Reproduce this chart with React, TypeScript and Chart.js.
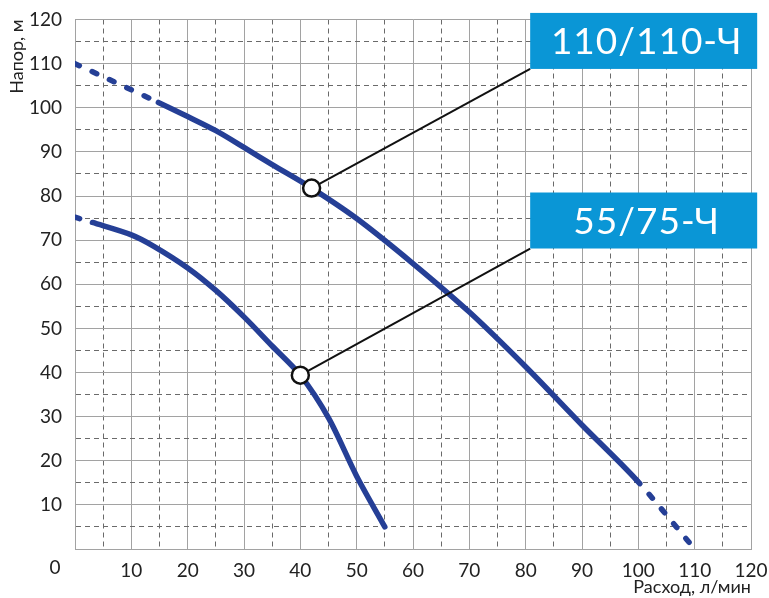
import React, { useEffect, useRef } from 'react';
import { Chart, registerables } from 'chart.js';

Chart.register(...registerables);

// Curve 110/110-Ч : flow (л/мин) and head (м)
const flowUpper = [0, 14.8, 20, 25, 30, 35, 42, 50, 60, 70, 80, 90, 99.7, 110];
const headUpper = [110, 101.2, 98.0, 94.8, 91.0, 87.1, 81.8, 74.9, 64.7, 53.7, 41.3, 28.1, 15.6, 0];
const dashedUpper = [0, 12]; // segment start indices drawn dashed

// Curve 55/75-Ч
const flowLower = [0, 3.1, 10, 14, 20, 25, 30, 35, 40, 45, 50, 55];
const headLower = [75.2, 74.0, 71.2, 68.6, 63.7, 58.6, 52.6, 46.0, 39.4, 29.7, 16.5, 5];
const dashedLower = [0];

// Model labels and the marked points
const modelNames = ['110/110-Ч', '55/75-Ч'];
const markerFlow = [42, 40];
const markerHead = [81.8, 39.4];
const calloutFlow = [80.8, 80.8];
const calloutHead = [108.8, 68.1];

const yTitle = 'Напор, м';
const xTitle = 'Расход, л/мин';
const originLabel = '0';

const FONT = 'Lato, "Open Sans", "DejaVu Sans", sans-serif';
const CURVE = '#253f96';
const BOX = '#0a96d6';

const toPoints = (xs: number[], ys: number[]) => xs.map((x, i) => ({ x, y: ys[i] }));

const calloutPlugin = {
  id: 'callouts',
  afterDatasetDraw(chart: any, args: any) {
    if (args.index !== 1) return;
    const { ctx, scales } = chart;
    const x = scales.x, y = scales.y;
    ctx.save();
    ctx.strokeStyle = '#111';
    ctx.lineWidth = 2;
    for (let i = 0; i < modelNames.length; i++) {
      ctx.beginPath();
      ctx.moveTo(x.getPixelForValue(markerFlow[i]), y.getPixelForValue(markerHead[i]));
      ctx.lineTo(x.getPixelForValue(calloutFlow[i]), y.getPixelForValue(calloutHead[i]));
      ctx.stroke();
    }
    ctx.restore();
  },
  afterDraw(chart: any) {
    const { ctx, scales } = chart;
    const x = scales.x, y = scales.y;
    ctx.save();
    const w = 227, h = 56;
    for (let i = 0; i < modelNames.length; i++) {
      const left = x.getPixelForValue(calloutFlow[i]);
      const bottom = y.getPixelForValue(calloutHead[i]);
      ctx.fillStyle = BOX;
      ctx.fillRect(left, bottom - h, w, h);
      ctx.fillStyle = '#ffffff';
      ctx.font = `37px ${FONT}`;
      try { (ctx as any).letterSpacing = '1px'; } catch (e) { /* ignore */ }
      ctx.textAlign = 'center';
      ctx.textBaseline = 'alphabetic';
      ctx.fillText(modelNames[i], left + w / 2 + 3, bottom - 15);
      try { (ctx as any).letterSpacing = '0px'; } catch (e) { /* ignore */ }
    }
    // origin label in the corner
    ctx.fillStyle = '#222';
    ctx.font = `19px ${FONT}`;
    ctx.textAlign = 'center';
    ctx.textBaseline = 'middle';
    ctx.fillText(originLabel, x.left - 20, y.bottom + 19);
    ctx.restore();
  },
};

const isMinor = (c: any) => c && c.tick && Math.round(c.tick.value) % 10 !== 0;

export default function App() {
  const ref = useRef<HTMLCanvasElement>(null);

  useEffect(() => {
    const canvas = ref.current;
    if (!canvas) return;
    const chart = new Chart(canvas, {
      type: 'line',
      data: {
        datasets: [
          {
            label: modelNames[0],
            data: toPoints(flowUpper, headUpper),
            borderColor: CURVE,
            borderWidth: 5.5,
            borderCapStyle: 'round',
            pointRadius: 0,
            tension: 0.3,
            order: 2,
            segment: {
              borderDash: (c: any) => (dashedUpper.includes(c.p0DataIndex) ? [5, 14] : undefined),
            },
          },
          {
            label: modelNames[1],
            data: toPoints(flowLower, headLower),
            borderColor: CURVE,
            borderWidth: 5.5,
            borderCapStyle: 'round',
            pointRadius: 0,
            tension: 0.3,
            order: 1,
            segment: {
              borderDash: (c: any) => (dashedLower.includes(c.p0DataIndex) ? [5, 14] : undefined),
            },
          },
          {
            label: 'points',
            data: toPoints(markerFlow, markerHead),
            showLine: false,
            pointRadius: 8.5,
            pointBackgroundColor: '#ffffff',
            pointBorderColor: '#111',
            pointBorderWidth: 2.5,
            order: 0,
          },
        ],
      } as any,
      options: {
        responsive: false,
        animation: false,
        events: [],
        layout: { padding: { left: 0, right: 18, top: 19.5, bottom: 0 } },
        plugins: { legend: { display: false }, tooltip: { enabled: false } },
        scales: {
          x: {
            type: 'linear',
            min: 0,
            max: 120,
            afterFit: (s: any) => { s.height = 49; s.paddingLeft = 0; s.paddingRight = 0; },
            ticks: {
              stepSize: 5,
              autoSkip: false,
              maxRotation: 0,
              padding: 10,
              color: '#222',
              font: { family: FONT, size: 19 },
              callback: (v: any) => (v % 10 === 0 && v !== 0 ? String(v) : ''),
            },
            grid: {
              drawTicks: false,
              lineWidth: 1,
              color: (c: any) => (isMinor(c) ? '#6a6a6a' : '#a2a2a2'),
            },
            border: {
              display: true,
              color: '#a2a2a2',
              dash: (c: any) => (isMinor(c) ? [5, 4] : []),
            },
            title: {
              display: true,
              text: xTitle,
              align: 'end',
              color: '#222',
              font: { family: FONT, size: 18 },
              padding: { top: 0, bottom: 0 },
            },
          },
          y: {
            type: 'linear',
            min: 0,
            max: 120,
            afterFit: (s: any) => { s.width = 75; s.paddingTop = 0; s.paddingBottom = 0; },
            ticks: {
              stepSize: 5,
              autoSkip: false,
              padding: 13,
              color: '#222',
              font: { family: FONT, size: 19 },
              callback: (v: any) => (v % 10 === 0 && v !== 0 ? String(v) : ''),
            },
            grid: {
              drawTicks: false,
              lineWidth: 1,
              color: (c: any) => (isMinor(c) ? '#6a6a6a' : '#a2a2a2'),
            },
            border: {
              display: true,
              color: '#a2a2a2',
              dash: (c: any) => (isMinor(c) ? [5, 4] : []),
            },
            title: {
              display: true,
              text: yTitle,
              align: 'end',
              color: '#222',
              font: { family: FONT, size: 18 },
              padding: { top: 6, bottom: 0 },
            },
          },
        },
      } as any,
      plugins: [calloutPlugin],
    });
    return () => chart.destroy();
  }, []);

  return (
    <div style={{ position: 'absolute', left: 0, top: 0, width: 769, height: 598, background: '#fff' }}>
      <canvas ref={ref} width={769} height={598} style={{ display: 'block' }} />
    </div>
  );
}
